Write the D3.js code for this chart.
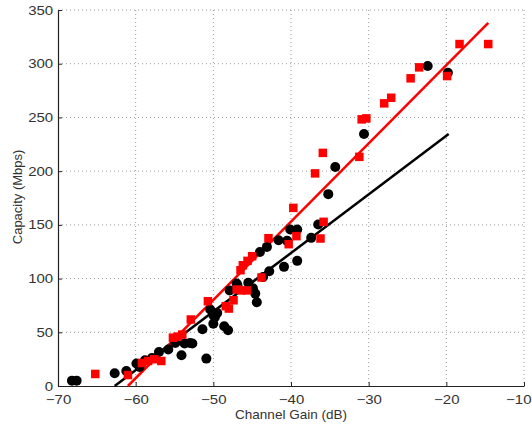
<!DOCTYPE html>
<html>
<head>
<meta charset="utf-8">
<script src="https://cdn.jsdelivr.net/npm/d3@7"></script>
<style>
  body { margin: 0; background: #fff; }
  svg text { font-family: "Liberation Sans", Arial, sans-serif; fill: #333; }
</style>
</head>
<body>
<svg id="chart" width="532" height="428"></svg>
<script>
// channel gain (dB) / capacity (Mbps)
const blackX = [-68.2, -67.6, -62.7, -61.2, -59.9, -59.5, -58.8, -57.9, -57.0, -55.8,
  -54.9, -54.1, -53.7, -53.0, -52.7, -51.4, -50.9, -50.4, -50.0, -49.8,
  -50.0, -49.5, -48.6, -48.1, -47.9, -46.9, -47.0, -45.5, -44.9, -44.6,
  -44.4, -44.0, -43.1, -42.8, -43.6, -41.6, -40.5, -40.1, -39.2, -40.9,
  -39.2, -37.4, -36.5, -35.2, -34.3, -30.6, -22.4, -19.8];
const blackY = [5, 5, 11.8, 14, 20.9, 17.7, 24, 26, 31.7, 33.9,
  40, 28.6, 39.5, 40, 39.5, 52.8, 25.5, 71.2, 66, 64,
  58, 68, 55.6, 51.9, 89, 93.8, 95.4, 96, 91, 86,
  78, 124.8, 129.5, 106.8, 101.5, 135.7, 135.1, 145.7, 145.7, 110.9,
  116.5, 137.9, 150.4, 178.6, 203.8, 234.5, 297.8, 291.6];

const redX = [-65.2, -61.0, -59.2, -58.4, -57.6, -56.7, -55.2, -54.6, -54.0, -52.9,
  -50.7, -48.4, -48.0, -47.4, -47.0, -46.4, -45.7, -46.5, -46.2, -45.6,
  -45.0, -43.8, -42.9, -40.3, -39.3, -39.7, -36.2, -35.8, -36.9, -35.9,
  -31.2, -30.9, -30.3, -28.0, -27.1, -24.6, -23.5, -19.9, -18.3, -14.6];
const redY = [11.2, 10.2, 21.4, 23.3, 24.9, 23.3, 45, 46, 47.9, 61.9,
  78.9, 74.3, 72.1, 79.8, 89.8, 89, 89, 107.8, 112.4, 116.5,
  120.8, 101, 137.6, 132, 139.5, 165.8, 137.3, 152.8, 197.9, 217,
  213.3, 248.2, 249.1, 263.1, 268.3, 286.4, 296.6, 288.5, 318.3, 318.3];

// fitted lines, end points
const blackFit = [[-62.7, 0], [-19.7, 234.5]];
const redFit = [[-61.0, 0], [-14.6, 338]];

const xTicks = [-70, -60, -50, -40, -30, -20, -10];
const yTicks = [0, 50, 100, 150, 200, 250, 300, 350];

const svg = d3.select('#chart');
const plotL = 58, plotR = 524, plotT = 10, plotB = 386;

const x = d3.scaleLinear().domain([-70, -10]).range([plotL, plotR]);
const y = d3.scaleLinear().domain([0, 350]).range([plotB, plotT]);

// dotted grid
const grid = svg.append('g')
  .attr('stroke', '#999')
  .attr('stroke-width', 1)
  .attr('stroke-dasharray', '1,3');
grid.selectAll('.gx')
  .data(xTicks.slice(1))
  .enter().append('line')
  .attr('x1', d => x(d)).attr('x2', d => x(d))
  .attr('y1', plotT).attr('y2', plotB);
grid.selectAll('.gy')
  .data(yTicks.slice(1))
  .enter().append('line')
  .attr('x1', plotL).attr('x2', plotR)
  .attr('y1', d => y(d)).attr('y2', d => y(d));

// axes
const fmt = d => d < 0 ? '\u2212' + Math.abs(d) : d;
const xAxis = svg.append('g')
  .attr('transform', `translate(0,${plotB})`)
  .call(d3.axisBottom(x).tickValues(xTicks).tickSizeInner(-4).tickSizeOuter(0).tickPadding(9).tickFormat(fmt));
const yAxis = svg.append('g')
  .attr('transform', `translate(${plotL},0)`)
  .call(d3.axisLeft(y).tickValues(yTicks).tickSizeInner(-4).tickSizeOuter(0).tickPadding(4));
[xAxis, yAxis].forEach(a => {
  a.select('.domain').attr('stroke', '#222').attr('stroke-width', 1.2);
  a.selectAll('.tick line').attr('stroke', '#222');
  // labels in the picture are a bit wide, stretch them sideways
  a.selectAll('text').attr('font-size', 12.5).attr('transform', 'scale(1.2,1)').style('fill', '#333');
});
// last x label sits at the window edge, keep it inside
xAxis.selectAll('.tick text')
  .filter(d => d === -10)
  .attr('text-anchor', 'end')
  .attr('x', (531 - plotR) / 1.2);

svg.append('text')
  .attr('x', x(-40)).attr('y', 419)
  .attr('text-anchor', 'middle')
  .attr('font-size', 13.5)
  .text('Channel Gain (dB)');
svg.append('text')
  .attr('transform', `translate(22,${y(176)}) rotate(-90)`)
  .attr('text-anchor', 'middle')
  .attr('font-size', 13)
  .text('Capacity (Mbps)');

// fit lines
const line = d3.line().x(d => x(d[0])).y(d => y(d[1]));
svg.append('path').datum(blackFit)
  .attr('d', line).attr('stroke', '#000').attr('stroke-width', 2.5).attr('fill', 'none');
svg.append('path').datum(redFit)
  .attr('d', line).attr('stroke', '#f00').attr('stroke-width', 2.5).attr('fill', 'none');

// markers
svg.append('g').selectAll('circle')
  .data(d3.range(blackX.length))
  .enter().append('circle')
  .attr('cx', i => x(blackX[i]))
  .attr('cy', i => y(blackY[i]))
  .attr('r', 5)
  .attr('fill', '#000');

const sq = 8.5;
svg.append('g').selectAll('rect')
  .data(d3.range(redX.length))
  .enter().append('rect')
  .attr('x', i => x(redX[i]) - sq / 2)
  .attr('y', i => y(redY[i]) - sq / 2)
  .attr('width', sq).attr('height', sq)
  .attr('fill', '#f00');
</script>
</body>
</html>
